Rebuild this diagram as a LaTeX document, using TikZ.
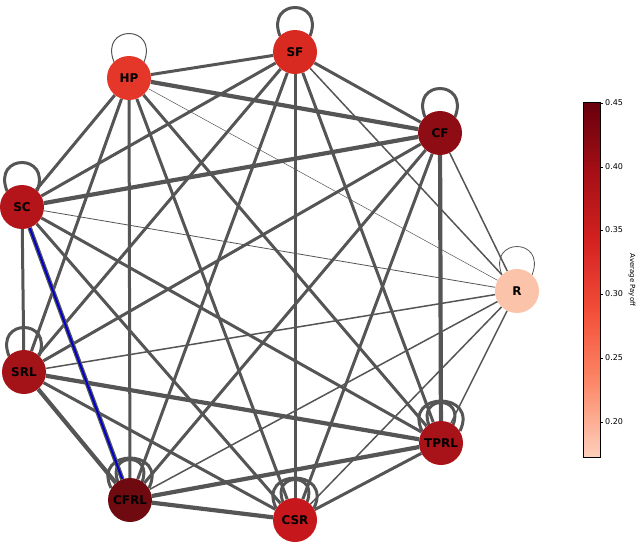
\documentclass[tikz,border=0pt]{standalone}
\usepackage{fontspec}
\setmainfont{DejaVu Sans}
\usetikzlibrary{backgrounds}
\definecolor{cHP}{HTML}{E5362A}
\definecolor{cSF}{HTML}{D92A22}
\definecolor{cCF}{HTML}{8E0D14}
\definecolor{cR}{HTML}{FCC3AB}
\definecolor{cTPRL}{HTML}{A81219}
\definecolor{cCSR}{HTML}{C6171C}
\definecolor{cCFRL}{HTML}{6E0A10}
\definecolor{cSRL}{HTML}{A31318}
\definecolor{cSC}{HTML}{B3151B}
\definecolor{eg}{HTML}{555555}
\definecolor{r1}{HTML}{67000D}
\definecolor{r2}{HTML}{A50F15}
\definecolor{r3}{HTML}{D52221}
\definecolor{r4}{HTML}{F4503A}
\definecolor{r5}{HTML}{FC8A6A}
\definecolor{r6}{HTML}{FDD0BC}
\tikzset{pn/.style={circle,minimum size=44pt,inner sep=0pt,font=\bfseries\large},
 ed/.style={draw=eg,line width=3pt},
 edk/.style={draw=eg,line width=4.2pt},
 edt/.style={draw=eg,line width=1.5pt},
 edh/.style={draw=eg,line width=0.5pt}}
\begin{document}
\begin{tikzpicture}[x=1pt,y=-1pt]
\useasboundingbox (0,0) rectangle (640,555);
\node[pn,fill=cHP] (HP) at (129,78) {HP};
\node[pn,fill=cSF] (SF) at (295,52) {SF};
\node[pn,fill=cCF] (CF) at (440,133) {CF};
\node[pn,fill=cR] (R) at (517,291) {R};
\node[pn,fill=cTPRL] (TPRL) at (441,443) {TPRL};
\node[pn,fill=cCSR] (CSR) at (295,520) {CSR};
\node[pn,fill=cCFRL] (CFRL) at (130,500) {CFRL};
\node[pn,fill=cSRL] (SRL) at (24,372) {SRL};
\node[pn,fill=cSC] (SC) at (22,207) {SC};
\begin{pgfonlayer}{background}
% loops
\draw[edh,line width=1pt] (HP.center) ++(-15,-16) .. controls +(-15,-38) and +(15,-38) .. ++(30,0);
\draw[ed] (SF.center) ++(-15,-16) .. controls +(-15,-38) and +(15,-38) .. ++(30,0);
\draw[ed] (CF.center) ++(-15,-16) .. controls +(-15,-38) and +(15,-38) .. ++(30,0);
\draw[edh,line width=0.8pt] (R.center) ++(-15,-16) .. controls +(-15,-38) and +(15,-38) .. ++(30,0);
\draw[ed] (SC.center) ++(-15,-16) .. controls +(-15,-38) and +(15,-38) .. ++(30,0);
\draw[ed] (SRL.center) ++(-15,-16) .. controls +(-15,-38) and +(15,-38) .. ++(30,0);
\foreach \n in {TPRL,CSR,CFRL}{
\draw[ed] (\n.center) ++(-12,-18) .. controls +(-12,-30) and +(12,-30) .. ++(24,0);
\draw[ed] (\n.center) ++(-19,-12) .. controls +(-19,-40) and +(19,-40) .. ++(38,0);}
% edges
\draw[ed] (HP)--(SF); \draw[edk] (HP)--(CF); \draw[edh] (HP)--(R);
\draw[ed] (HP)--(TPRL); \draw[ed] (HP)--(CSR); \draw[ed] (HP)--(CFRL);
\draw[ed] (HP)--(SRL); \draw[ed] (HP)--(SC);
\draw[ed] (SF)--(CF); \draw[edt] (SF)--(R); \draw[ed] (SF)--(TPRL);
\draw[ed] (SF)--(CSR); \draw[ed] (SF)--(CFRL); \draw[ed] (SF)--(SRL); \draw[ed] (SF)--(SC);
\draw[edt] (CF)--(R); \draw[edk] (CF)--(TPRL); \draw[ed] (CF)--(CSR);
\draw[ed] (CF)--(CFRL); \draw[ed] (CF)--(SRL); \draw[edk] (CF)--(SC);
\draw[edt] (R)--(TPRL); \draw[edt] (R)--(CSR); \draw[edt] (R)--(CFRL);
\draw[edt] (R)--(SRL); \draw[edh,line width=0.8pt] (R)--(SC);
\draw[ed] (TPRL)--(CSR); \draw[edk] (TPRL)--(CFRL); \draw[edk] (TPRL)--(SRL); \draw[ed] (TPRL)--(SC);
\draw[edk] (CSR)--(CFRL); \draw[ed] (CSR)--(SRL); \draw[ed] (CSR)--(SC);
\draw[edk] (CFRL)--(SRL);
\draw[eg,line width=4.5pt] (CFRL)--(SC); \draw[blue!80!black,line width=2pt] (CFRL)--(SC);
\draw[ed] (SRL)--(SC);
\end{pgfonlayer}
% colorbar
\node[inner sep=0pt,minimum width=17pt,minimum height=355pt] (cb) at (591.5,279.5) {};
\shade[top color=r1, bottom color=r2] (583,102) rectangle (600,172);
\shade[top color=r2, bottom color=r3] (583,171) rectangle (600,243);
\shade[top color=r3, bottom color=r4] (583,242) rectangle (600,314);
\shade[top color=r4, bottom color=r5] (583,313) rectangle (600,385);
\shade[top color=r5, bottom color=r6] (583,384) rectangle (600,457);
\draw[line width=0.5pt] (583,102) rectangle (600,457);
\foreach \v/\y in {0.45/103,0.40/167,0.35/230,0.30/294,0.25/358,0.20/422}{
\draw[line width=0.5pt] (600,\y)--(603,\y);
\node[anchor=west,font=\footnotesize,inner sep=1pt] at (604,\y) {\v};}
\node[rotate=-90,font=\scriptsize] (lbl) at (632,280) {Average Payoff};
\end{tikzpicture}
\end{document}
